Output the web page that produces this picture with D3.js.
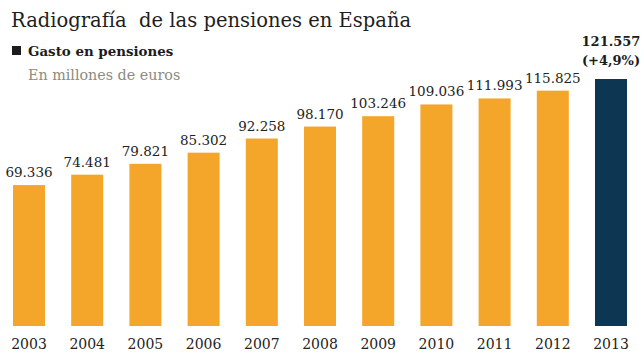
<!DOCTYPE html>
<html>
<head>
<meta charset="utf-8">
<script src="https://cdn.jsdelivr.net/npm/d3@7"></script>
<style>
  body { margin: 0; background: #fff; }
  svg text { font-family: "DejaVu Serif", serif; white-space: pre; }
</style>
</head>
<body>
<div id="chart"></div>
<script>
var years = ['2003','2004','2005','2006','2007','2008','2009','2010','2011','2012','2013'];
var gasto = [69336, 74481, 79821, 85302, 92258, 98170, 103246, 109036, 111993, 115825, 121557];
var labels = ['69.336','74.481','79.821','85.302','92.258','98.170','103.246','109.036','111.993','115.825','121.557'];
var lastChange = '(+4,9%)';

var width = 644, height = 362;
var colors = { past: '#f4a62a', last: '#0c3651' };

var svg = d3.select('#chart')
  .append('svg')
  .attr('width', width)
  .attr('height', height);

var x = d3.scaleBand()
  .domain(years)
  .range([13, 627])
  .paddingInner(0.45)
  .paddingOuter(0);

var y = d3.scaleLinear()
  .domain([0, d3.max(gasto)])
  .range([326, 79]);

var data = years.map(function (yr, i) {
  return { year: yr, value: gasto[i], label: labels[i], last: i === years.length - 1 };
});

// title + legend
svg.append('text')
  .attr('x', 11).attr('y', 27)
  .attr('font-size', 19.5)
  .attr('fill', '#1e1e1e')
  .text('Radiografía  de las pensiones en España');

svg.append('rect')
  .attr('x', 12).attr('y', 46)
  .attr('width', 9).attr('height', 9)
  .attr('fill', '#1c1c1c');

svg.append('text')
  .attr('x', 28).attr('y', 56)
  .attr('font-size', 13.4)
  .attr('font-weight', 'bold')
  .attr('fill', '#1c1c1c')
  .text('Gasto en pensiones');

svg.append('text')
  .attr('x', 28).attr('y', 80)
  .attr('font-size', 14.3)
  .attr('fill', '#8c8b80')
  .text('En millones de euros');

// bars
svg.selectAll('rect.bar')
  .data(data)
  .enter()
  .append('rect')
  .attr('class', 'bar')
  .attr('x', function (d) { return x(d.year); })
  .attr('width', x.bandwidth())
  .attr('y', function (d) { return y(d.value); })
  .attr('height', function (d) { return y(0) - y(d.value); })
  .attr('fill', function (d) { return d.last ? colors.last : colors.past; });

// value labels
svg.selectAll('text.val')
  .data(data.filter(function (d) { return !d.last; }))
  .enter()
  .append('text')
  .attr('class', 'val')
  .attr('x', function (d) { return x(d.year) + x.bandwidth() / 2; })
  .attr('y', function (d) { return y(d.value) - 8; })
  .attr('text-anchor', 'middle')
  .attr('font-size', 13.5)
  .attr('fill', '#222')
  .text(function (d) { return d.label; });

var last = data[data.length - 1];
var lx = x(last.year) + x.bandwidth() / 2;
svg.append('text')
  .attr('x', lx).attr('y', y(last.value) - 33)
  .attr('text-anchor', 'middle')
  .attr('font-size', 13)
  .attr('font-weight', 'bold')
  .attr('fill', '#1c1c1c')
  .text(last.label);
svg.append('text')
  .attr('x', lx).attr('y', y(last.value) - 14)
  .attr('text-anchor', 'middle')
  .attr('font-size', 13)
  .attr('font-weight', 'bold')
  .attr('fill', '#1c1c1c')
  .text(lastChange);

// year axis
var axis = svg.append('g')
  .attr('transform', 'translate(0,' + y(0) + ')')
  .call(d3.axisBottom(x).tickSize(0).tickPadding(13));
axis.select('.domain').remove();
axis.selectAll('text')
  .attr('font-size', 14)
  .attr('font-family', '"DejaVu Serif", serif')
  .attr('fill', '#222');
</script>
</body>
</html>
